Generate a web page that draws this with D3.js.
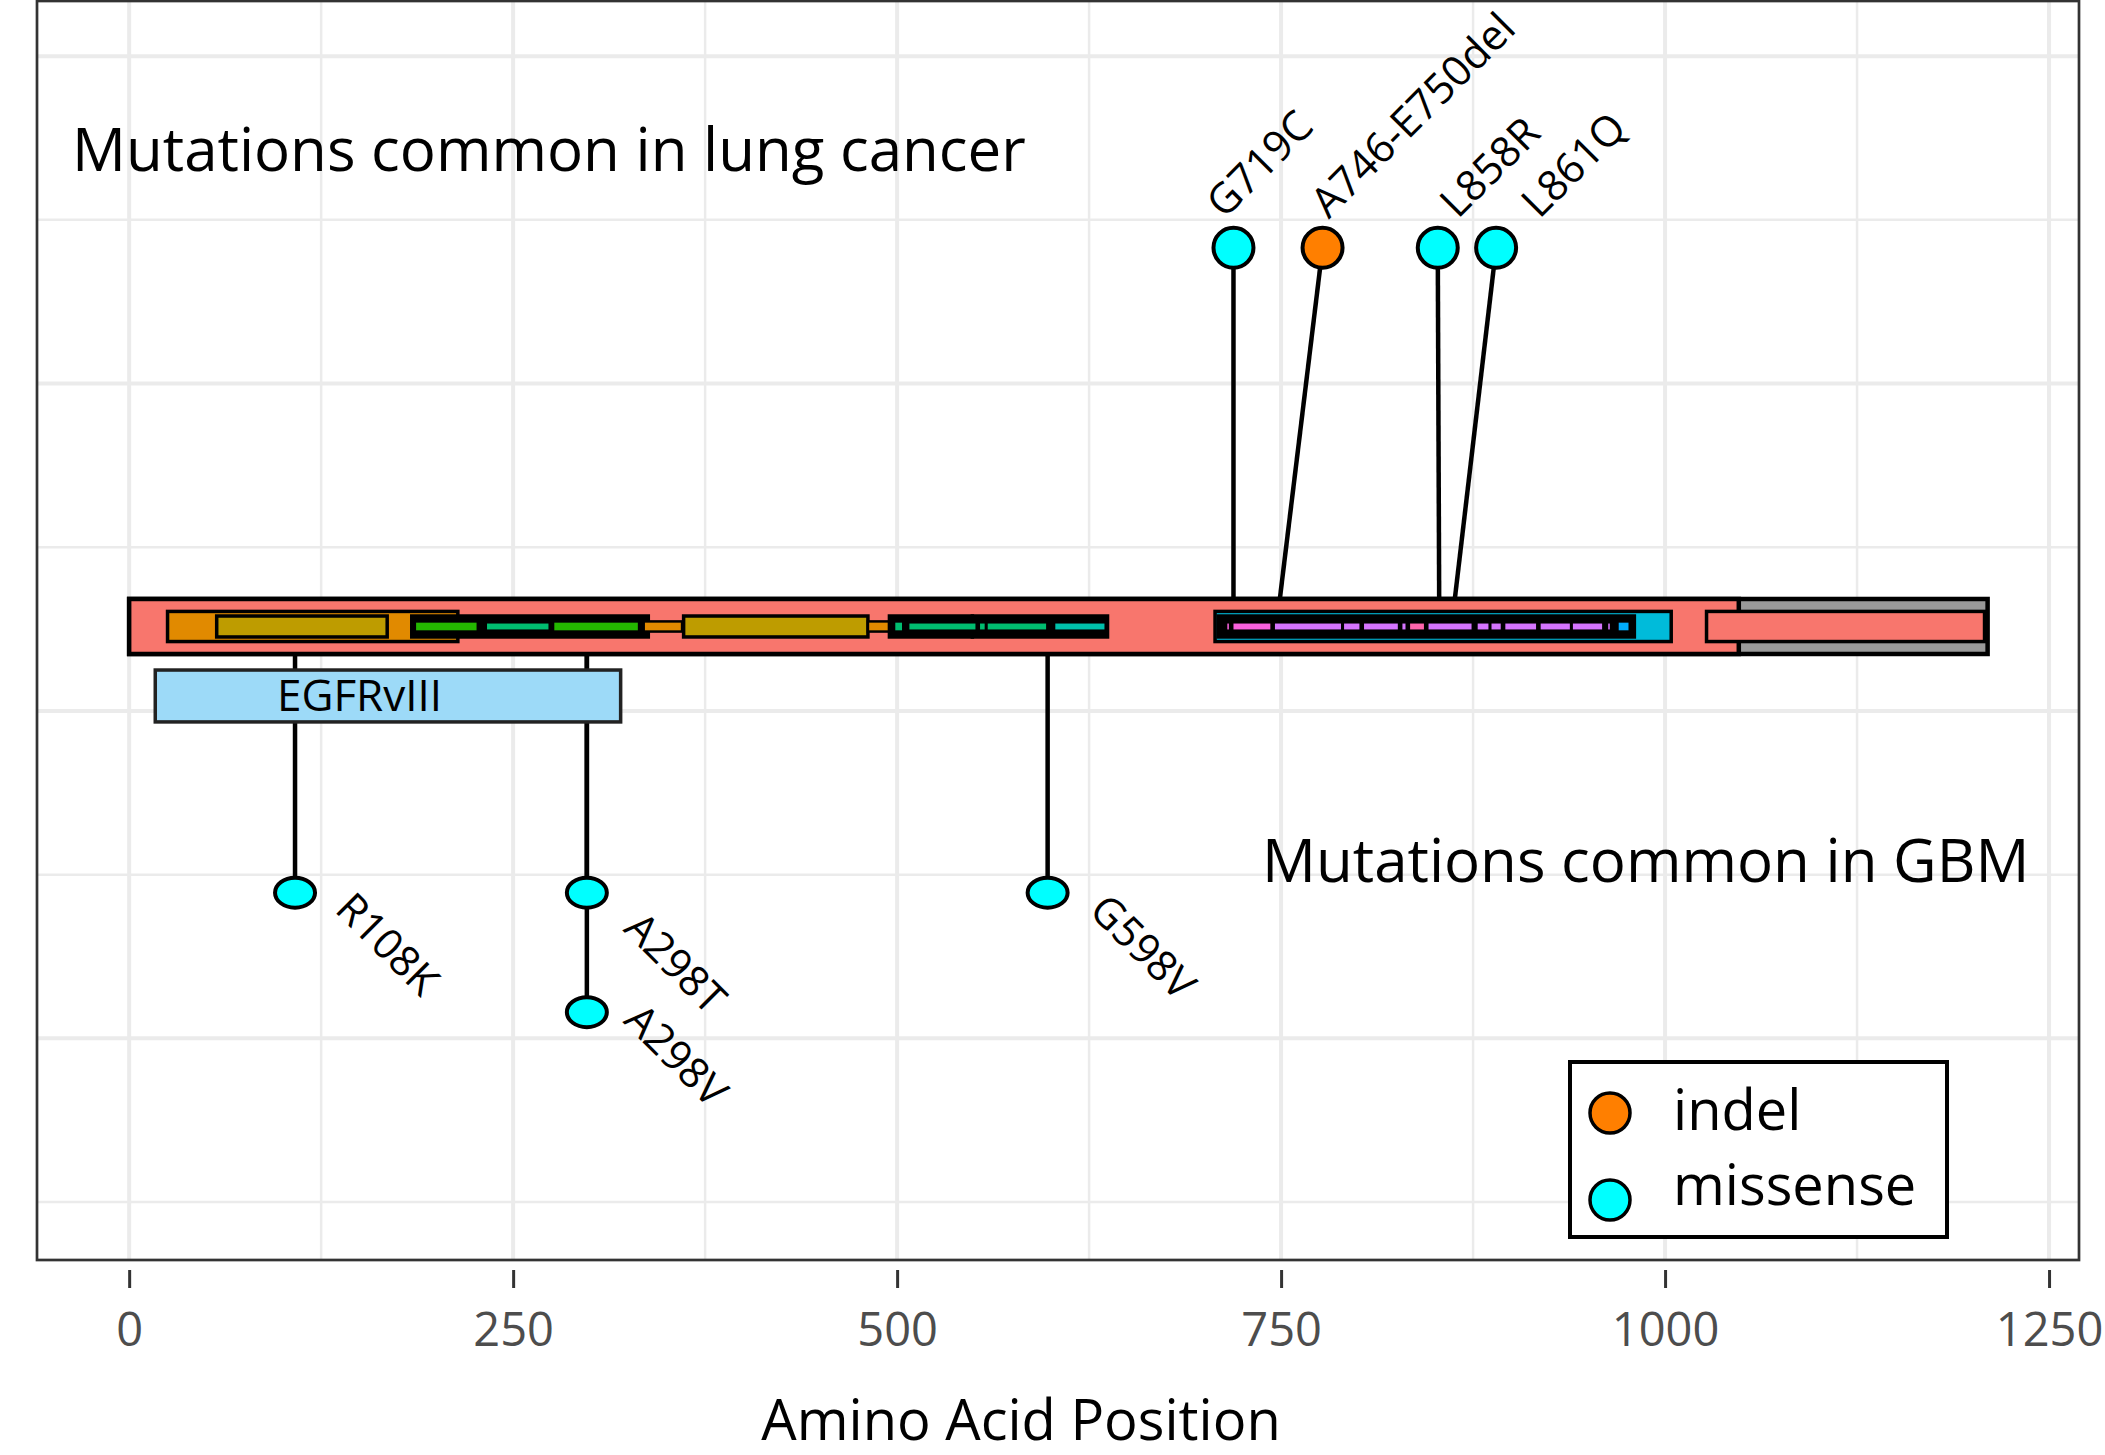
<!DOCTYPE html>
<html>
<head>
<meta charset="utf-8">
<script src="https://cdn.jsdelivr.net/npm/d3@7"></script>
<style>
  body { margin: 0; background: #fff; }
  svg { display: block; }
  text { font-family: 'Open Sans', 'Noto Sans', sans-serif; }
</style>
</head>
<body>
<div id="chart"></div>
<script>
const Width = 2105
const Height = 1455

// gene body
const geneLength = 1210
const geneColouredEnd = 1048
const geneY = 0.516

// protein domains drawn on the gene (aa start / end, fill key, track)
const domainStart = [25, 57, 184, 186, 233, 276, 335, 361, 481, 495, 549, 498, 508, 554, 559, 603,
  707, 709, 715, 719, 746, 791, 804, 829, 834, 846, 878, 887, 896, 919, 940, 963, 969, 1027]
const domainEnd = [214, 168, 338, 227, 273, 332, 360, 481, 495, 549, 637, 504, 551, 557, 597, 635,
  1004, 980, 716, 743, 789, 801, 826, 831, 843, 874, 885, 893, 916, 938, 959, 964, 977, 1208]
const domainFill = ['orange', 'olive', 'black', 'green', 'teal', 'green', 'orange', 'olive', 'orange', 'black', 'black',
  'teal', 'teal', 'teal', 'teal', 'aqua',
  'cyan', 'black', 'pink', 'pink', 'purple', 'purple', 'purple', 'purple', 'rose', 'purple', 'purple', 'purple',
  'purple', 'purple', 'purple', 'purple', 'blue', 'salmon']
const domainTrack = ['region', 'mid', 'mid', 'small', 'thin', 'small', 'small', 'mid', 'small', 'mid', 'mid',
  'small', 'thin', 'thin', 'thin', 'thin',
  'region', 'mid', 'thin', 'thin', 'thin', 'thin', 'thin', 'thin', 'thin', 'thin', 'thin', 'thin',
  'thin', 'thin', 'thin', 'thin', 'small', 'region']

// EGFRvIII deletion
const variantName = 'EGFRvIII'
const variantStart = 17
const variantEnd = 320
const variantTop = 0.25
const variantBottom = -0.067
const variantLabelPos = 150

// mutations
const mutName = ['G719C', 'A746-E750del', 'L858R', 'L861Q', 'R108K', 'A298T', 'A298V', 'G598V']
const mutType = ['missense', 'indel', 'missense', 'missense', 'missense', 'missense', 'missense', 'missense']
const mutPos = [719, 747, 853, 861, 108, 298, 298, 598]
const mutHeadPos = [719, 777, 852, 890, 108, 298, 298, 598]
const mutHeadY = [2.83, 2.83, 2.83, 2.83, -1.11, -1.11, -1.84, -1.11]
const mutLabelPos = [713, 781, 865, 918, 133, 321, 321, 624]
const mutLabelY = [3.0, 3.0, 3.0, 3.0, -1.22, -1.34, -1.90, -1.23]

const legendTypes = ['indel', 'missense']

// axis ticks
const xTicks = [0, 250, 500, 750, 1000, 1250]
const xMinor = [125, 375, 625, 875, 1125]
const yMajor = [-2, 0, 2, 4]
const yMinor = [-3, -1, 1, 3]

const fills = {
    orange: '#E18A00', olive: '#BE9C00', green: '#24B700', teal: '#00BE70', aqua: '#00C1AB',
    cyan: '#00BBDA', blue: '#00ACFC', purple: '#D575FE', pink: '#F962DD', rose: '#FF65AC',
    salmon: '#F8766D', black: '#000000'
}
const trackHalf = { region: 0.092, mid: 0.064, small: 0.031, thin: 0.018 }
const typeColour = { indel: '#FF7F00', missense: '#00FFFF' }

const x = d3.scaleLinear().domain([-60, 1269.5]).range([37, 2079])
const y = d3.scaleLinear().domain([-3.354, 4.337]).range([1260, 1])

const svg = d3.select('#chart').append('svg')
    .attr('width', Width)
    .attr('height', Height)

const [pl, pr] = x.range()
const [pb, pt] = y.range()

// grid
const grid = svg.append('g')
grid.selectAll('.xminor').data(xMinor).join('line')
    .attr('x1', d => x(d)).attr('x2', d => x(d)).attr('y1', pt).attr('y2', pb)
    .attr('stroke', '#EBEBEB').attr('stroke-width', 2.5)
grid.selectAll('.yminor').data(yMinor).join('line')
    .attr('x1', pl).attr('x2', pr).attr('y1', d => y(d)).attr('y2', d => y(d))
    .attr('stroke', '#EBEBEB').attr('stroke-width', 2.5)
grid.selectAll('.xmajor').data(xTicks).join('line')
    .attr('x1', d => x(d)).attr('x2', d => x(d)).attr('y1', pt).attr('y2', pb)
    .attr('stroke', '#EBEBEB').attr('stroke-width', 4)
grid.selectAll('.ymajor').data(yMajor).join('line')
    .attr('x1', pl).attr('x2', pr).attr('y1', d => y(d)).attr('y2', d => y(d))
    .attr('stroke', '#EBEBEB').attr('stroke-width', 4)

const geneHalf = 0.168
const mutations = mutName.map((name, i) => ({
    name, type: mutType[i], pos: mutPos[i], headPos: mutHeadPos[i], headY: mutHeadY[i],
    labelPos: mutLabelPos[i], labelY: mutLabelY[i], up: mutHeadY[i] > geneY
}))

// stems
svg.append('g').selectAll('line').data(mutations).join('line')
    .attr('x1', d => x(d.pos))
    .attr('y1', y(geneY))
    .attr('x2', d => x(d.headPos))
    .attr('y2', d => y(d.headY))
    .attr('stroke', '#000').attr('stroke-width', 4.5)

// gene body
const gene = svg.append('g')
gene.append('rect')
    .attr('x', x(0)).attr('width', x(geneLength) - x(0))
    .attr('y', y(geneY + geneHalf)).attr('height', y(geneY - geneHalf) - y(geneY + geneHalf))
    .attr('fill', '#999999').attr('stroke', '#000').attr('stroke-width', 4.5)
gene.append('rect')
    .attr('x', x(0)).attr('width', x(geneColouredEnd) - x(0))
    .attr('y', y(geneY + geneHalf)).attr('height', y(geneY - geneHalf) - y(geneY + geneHalf))
    .attr('fill', fills.salmon).attr('stroke', '#000').attr('stroke-width', 4.5)

const domains = domainStart.map((s, i) => ({ s, e: domainEnd[i], fill: domainFill[i], track: domainTrack[i] }))
gene.selectAll('.dom').data(domains).join('rect')
    .attr('x', d => x(d.s))
    .attr('width', d => x(d.e) - x(d.s))
    .attr('y', d => y(geneY + trackHalf[d.track]))
    .attr('height', d => y(geneY - trackHalf[d.track]) - y(geneY + trackHalf[d.track]))
    .attr('fill', d => fills[d.fill])
    .attr('stroke', d => d.track === 'thin' ? 'none' : '#000')
    .attr('stroke-width', d => d.track === 'small' ? 2.5 : 3.5)

// EGFRvIII
svg.append('rect')
    .attr('x', x(variantStart)).attr('width', x(variantEnd) - x(variantStart))
    .attr('y', y(variantTop)).attr('height', y(variantBottom) - y(variantTop))
    .attr('fill', '#9DDAF8').attr('stroke', '#222').attr('stroke-width', 3.5)
svg.append('text')
    .attr('x', x(variantLabelPos)).attr('y', y((variantTop + variantBottom) / 2))
    .attr('dy', '0.35em').attr('text-anchor', 'middle')
    .attr('font-size', 44).text(variantName)

// heads
svg.append('g').selectAll('ellipse').data(mutations).join('ellipse')
    .attr('cx', d => x(d.headPos))
    .attr('cy', d => y(d.headY))
    .attr('rx', 20)
    .attr('ry', d => d.up ? 20 : 15)
    .attr('fill', d => typeColour[d.type])
    .attr('stroke', '#000').attr('stroke-width', 4)

// labels
svg.append('g').selectAll('text').data(mutations).join('text')
    .attr('transform', d => `translate(${x(d.labelPos)},${y(d.labelY)}) rotate(${d.up ? -45 : 45})`)
    .attr('font-size', 42)
    .text(d => d.name)

// annotations
svg.append('text').attr('x', 72).attr('y', 171).attr('font-size', 60)
    .text('Mutations common in lung cancer')
svg.append('text').attr('x', 1262).attr('y', 882).attr('font-size', 60)
    .text('Mutations common in GBM')

// legend
const lg = svg.append('g')
lg.append('rect').attr('x', 1570).attr('y', 1062).attr('width', 377).attr('height', 175)
    .attr('fill', '#fff').attr('stroke', '#000').attr('stroke-width', 4)
const items = lg.selectAll('.item').data(legendTypes).join('g')
    .attr('transform', (d, i) => `translate(1610,${1113 + i * 87})`)
items.append('circle').attr('r', 20).attr('fill', d => typeColour[d])
    .attr('stroke', '#000').attr('stroke-width', 3.5)
items.append('text').attr('x', 63).attr('y', (d, i) => i ? 5 : 17).attr('font-size', 56).text(d => d)

// panel border
svg.append('rect').attr('x', pl).attr('y', pt).attr('width', pr - pl).attr('height', pb - pt)
    .attr('fill', 'none').attr('stroke', '#333').attr('stroke-width', 2.7)

// x axis
const xAxis = svg.append('g').attr('transform', `translate(0,${pb + 10})`)
    .call(d3.axisBottom(x).tickValues(xTicks).tickSize(18).tickPadding(25).tickFormat(d3.format('d')))
xAxis.select('.domain').remove()
xAxis.selectAll('line').attr('stroke', '#333').attr('stroke-width', 3)
xAxis.selectAll('text').attr('fill', '#4D4D4D').attr('font-size', 47)
    .attr('font-family', "'Open Sans', sans-serif")

svg.append('text').attr('x', 1021).attr('y', 1440).attr('text-anchor', 'middle')
    .attr('font-size', 56).text('Amino Acid Position')
</script>
</body>
</html>
